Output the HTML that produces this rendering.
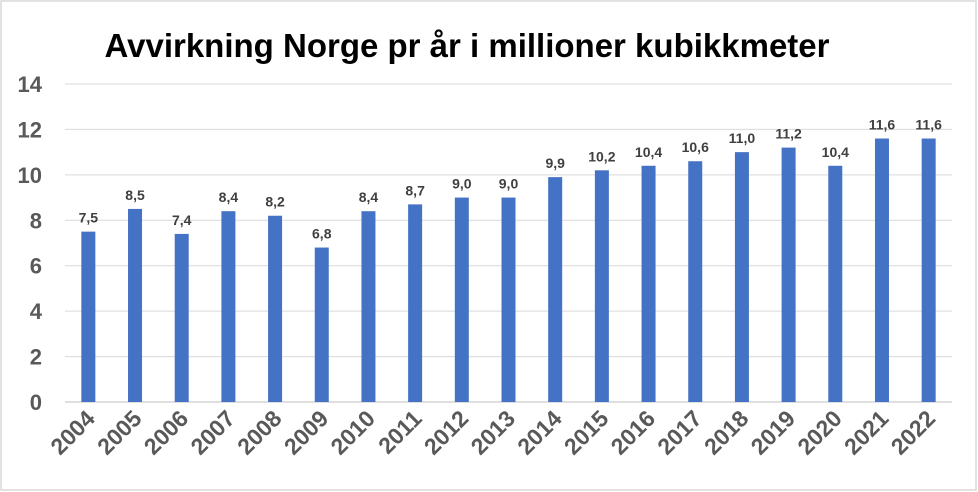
<!DOCTYPE html>
<html><head><meta charset="utf-8"><style>
body{margin:0;background:#fff;}
svg{display:block;font-family:"Liberation Sans",sans-serif;}
</style></head><body>
<svg id="c" width="978" height="492">
<rect x="1" y="1" width="975" height="489" fill="#fff" stroke="#d9d9d9" stroke-width="1.5"/>
<text x="467" y="57" text-anchor="middle" font-size="33" font-weight="bold" fill="#000">Avvirkning Norge pr år i millioner kubikkmeter</text>
<g id="grid"></g><g id="bars"></g>
</svg>
<script>
const categories=["2004","2005","2006","2007","2008","2009","2010","2011","2012","2013","2014","2015","2016","2017","2018","2019","2020","2021","2022"];
const values=[7.5,8.5,7.4,8.4,8.2,6.8,8.4,8.7,9.0,9.0,9.9,10.2,10.4,10.6,11.0,11.2,10.4,11.6,11.6];
const valueLabels=["7,5","8,5","7,4","8,4","8,2","6,8","8,4","8,7","9,0","9,0","9,9","10,2","10,4","10,6","11,0","11,2","10,4","11,6","11,6"];
const yTicks=[0,2,4,6,8,10,12,14];
const NS="http://www.w3.org/2000/svg";
const x0=65,x1=952,yb=402,yt=84,ymax=14;
const band=(x1-x0)/categories.length;
const y=v=>yb-(v/ymax)*(yb-yt);
const xc=i=>x0+band*(i+0.5);
const g=document.getElementById('grid'),b=document.getElementById('bars');
function mk(t,a,p){const e=document.createElementNS(NS,t);for(const k in a)e.setAttribute(k,a[k]);p.appendChild(e);return e;}
yTicks.forEach(t=>{
 const l=mk('line',{x1:x0,x2:x1,y1:y(t),y2:y(t),stroke:t===0?'#bfbfbf':'#d9d9d9','stroke-width':1},g);
 
 
 const tx=mk('text',{x:42,y:y(t)+8,'text-anchor':'end','font-size':22,'font-weight':'bold',fill:'#595959'},g);
 tx.textContent=t;
 
 
});
categories.forEach((c,i)=>{
 const r=mk('rect',{x:xc(i)-7,y:y(values[i]),width:14,height:yb-y(values[i]),fill:'#4472c4'},b);
 
 
 const v=mk('text',{x:xc(i),y:y(values[i])-9,'text-anchor':'middle','font-size':14,'font-weight':'bold',fill:'#404040'},b);
 v.textContent=valueLabels[i];
 
 
 const t=mk('text',{x:0,y:0,'text-anchor':'end','font-size':23,'font-weight':'bold',fill:'#595959',transform:`translate(${xc(i)+8},${yb+18}) rotate(-45)`},b);
 t.textContent=c;
 
 
});
</script>
</body></html>
